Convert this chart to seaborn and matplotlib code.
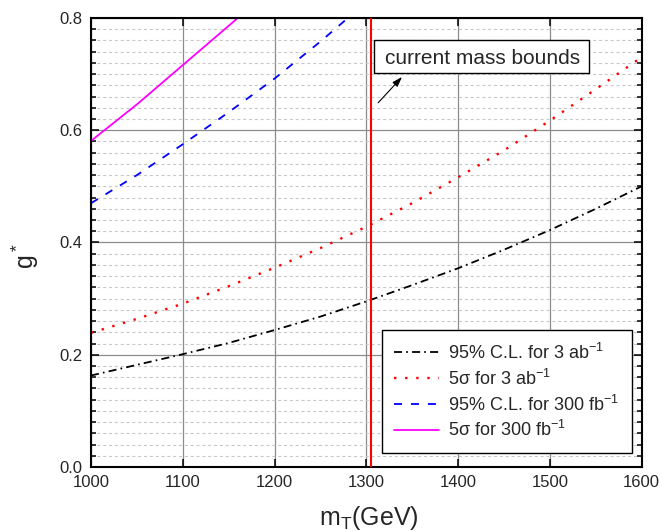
import matplotlib
matplotlib.use("Agg")
import matplotlib.pyplot as plt
import seaborn as sns
from matplotlib.ticker import MultipleLocator
from matplotlib.patches import Rectangle

# Sensitivity curves: coupling g* versus top-partner mass m_T (GeV)
mass_grid = [1000, 1050, 1100, 1150, 1200, 1250, 1300,
             1350, 1400, 1450, 1500, 1550, 1600]
g_cl95_3ab = [0.163, 0.182, 0.201, 0.221, 0.244, 0.268, 0.295,
              0.324, 0.354, 0.387, 0.422, 0.460, 0.500]
g_5sigma_3ab = [0.239, 0.264, 0.291, 0.322, 0.355, 0.390, 0.428,
                0.470, 0.516, 0.564, 0.617, 0.673, 0.730]

mass_cl95_300fb = [1000, 1050, 1100, 1150, 1200, 1250, 1280]
g_cl95_300fb = [0.470, 0.520, 0.575, 0.632, 0.692, 0.758, 0.800]

mass_5sigma_300fb = [1000, 1050, 1100, 1130, 1160]
g_5sigma_300fb = [0.581, 0.646, 0.716, 0.758, 0.800]

mass_bound = 1305

labels = [
    "95% C.L. for 3 ab$^{-1}$",
    "5\u03c3 for 3 ab$^{-1}$",
    "95% C.L. for 300 fb$^{-1}$",
    "5\u03c3 for 300 fb$^{-1}$",
]
colors = ["black", "#ff0000", "#0000ff", "#ff00ff"]
styles = [(0, (5.8, 3.0, 1.2, 3.0)), (0, (1.7, 6.3)), (0, (5.8, 6.4)), "-"]
widths = [1.3, 1.7, 1.3, 1.3]

sns.set_style("ticks")
plt.rcParams["font.family"] = ["Liberation Sans", "DejaVu Sans"]
plt.rcParams["mathtext.fontset"] = "custom"
plt.rcParams["mathtext.rm"] = "Liberation Sans"
plt.rcParams["mathtext.it"] = "Liberation Sans:italic"
plt.rcParams["mathtext.bf"] = "Liberation Sans:bold"
plt.rcParams["lines.scale_dashes"] = False

fig = plt.figure(figsize=(6.62, 5.31), dpi=100)
ax = fig.add_axes([91 / 662, 1 - 467 / 531, 550.5 / 662, 449 / 531])

series = [
    (mass_grid, g_cl95_3ab),
    (mass_grid, g_5sigma_3ab),
    (mass_cl95_300fb, g_cl95_300fb),
    (mass_5sigma_300fb, g_5sigma_300fb),
]
handles = []
for (xs, ys), lab, col, ls, lw in zip(series, labels, colors, styles, widths):
    sns.lineplot(x=xs, y=ys, ax=ax, color=col, linewidth=lw,
                 linestyle=ls, label=lab, legend=False)
    handles.append(ax.lines[-1])

ax.axvline(mass_bound, color="#ff0000", linewidth=1.5, zorder=3)

ax.set_xlim(1000, 1600)
ax.set_ylim(0.0, 0.8)
ax.xaxis.set_major_locator(MultipleLocator(100))
ax.yaxis.set_major_locator(MultipleLocator(0.2))
ax.yaxis.set_minor_locator(MultipleLocator(0.02))

ax.set_axisbelow(True)
ax.grid(which="major", color="#8c8c8c", linewidth=0.9, linestyle="-")
ax.grid(which="minor", axis="y", color="#c8c8c8", linewidth=0.8,
        linestyle=(0, (2.2, 2.0)))

for sp in ax.spines.values():
    sp.set_linewidth(1.5)
    sp.set_color("black")
    sp.set_visible(True)

ax.tick_params(which="both", direction="in", top=True, right=True,
               width=1.1, color="black")
ax.tick_params(which="major", length=6, labelsize=12)
ax.tick_params(which="minor", length=3.6)
ax.tick_params(axis="x", pad=6)
ax.tick_params(axis="y", pad=6)

ax.set_xlabel("m$_\\mathrm{T}$(GeV)", fontsize=18)
ax.set_ylabel("g$^*$", fontsize=18)
ax.xaxis.set_label_coords(0.505, -0.082)
ax.yaxis.set_label_coords(-0.09, 0.47)

leg = ax.legend(handles=handles, labels=labels, loc="lower right",
                bbox_to_anchor=(0.983, 0.031), fontsize=13, frameon=True,
                fancybox=False, edgecolor="black", framealpha=1,
                handlelength=2.5, labelspacing=0.32, borderpad=0.7,
                handletextpad=0.5, borderaxespad=0.0)
leg.get_frame().set_linewidth(1.0)

# Annotation for the present experimental lower limit on m_T
ax.add_patch(Rectangle((0.514, 0.8775), 0.391, 0.0735,
                       transform=ax.transAxes, facecolor="white",
                       edgecolor="black", linewidth=1.0, zorder=5))
ax.text(0.711, 0.8976, "current mass bounds", transform=ax.transAxes,
        fontsize=15, ha="center", va="baseline", zorder=6)
ax.annotate("", xy=(1339, 0.695), xytext=(1313, 0.649),
            arrowprops=dict(arrowstyle="-|>,head_length=0.6,head_width=0.2",
                            color="black", lw=0.8, shrinkA=0, shrinkB=0))

fig.savefig("out.png", dpi=100)
